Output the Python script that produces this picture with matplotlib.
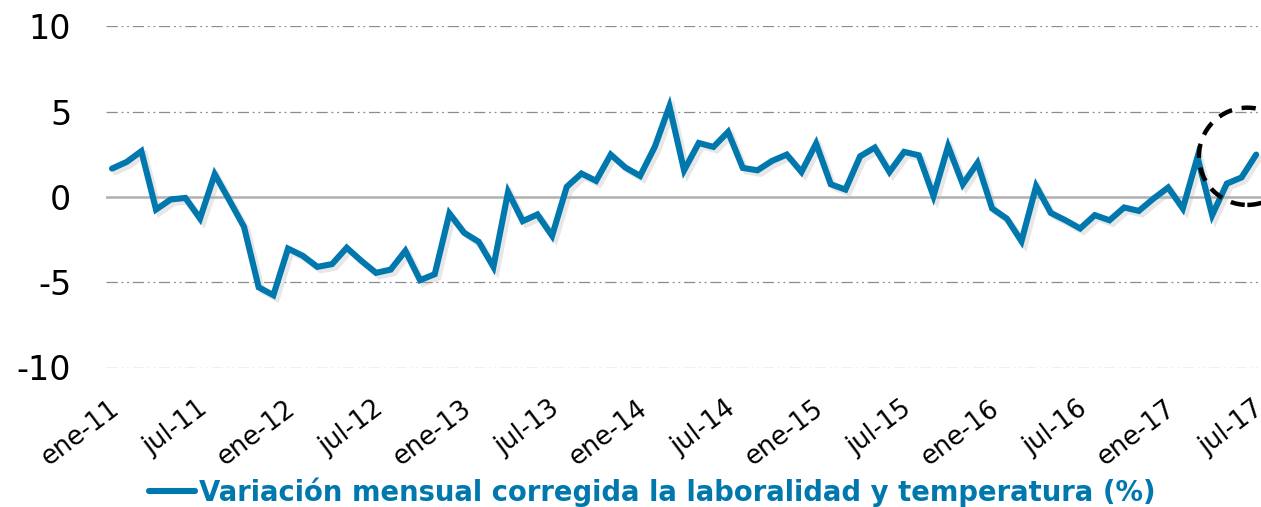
import matplotlib
matplotlib.use("Agg")
import matplotlib.pyplot as plt
import matplotlib.patheffects as pe
from matplotlib.patches import Ellipse
import matplotlib.transforms as mtransforms

years = ["11", "12", "13", "14", "15", "16", "17"]
months = []
for y in years:
    for m in ["ene", "feb", "mar", "abr", "may", "jun", "jul", "ago", "sep", "oct", "nov", "dic"]:
        months.append(f"{m}-{y}")
months = months[:79]  # ene-11 .. jul-17

values = [
    1.66, 2.05, 2.68, -0.74, -0.15, -0.06, -1.27, 1.33, -0.20, -1.76,
    -5.30, -5.76, -3.03, -3.45, -4.10, -3.94, -2.98, -3.75, -4.45, -4.26,
    -3.16, -4.88, -4.53, -0.97, -2.10, -2.63, -4.10, 0.29, -1.42, -1.03,
    -2.28, 0.59, 1.37, 0.94, 2.48, 1.72, 1.23, 2.93, 5.31, 1.56,
    3.16, 2.93, 3.81, 1.70, 1.56, 2.11, 2.48, 1.46, 3.13, 0.74,
    0.43, 2.38, 2.89, 1.46, 2.64, 2.44, 0.05, 2.97, 0.74, 1.99,
    -0.68, -1.27, -2.60, 0.63, -0.94, -1.37, -1.85, -1.07, -1.37, -0.62,
    -0.82, -0.10, 0.55, -0.68, 2.34, -1.07, 0.78, 1.14, 2.48,
]
tick_labels = ["ene-11", "jul-11", "ene-12", "jul-12", "ene-13", "jul-13", "ene-14",
               "jul-14", "ene-15", "jul-15", "ene-16", "jul-16", "ene-17", "jul-17"]
yticks = [-10, -5, 0, 5, 10]
legend_label = "Variación mensual corregida la laboralidad y temperatura (%)"

W, H = 1261, 507
fig = plt.figure(figsize=(W / 100, H / 100), dpi=100)
ax = fig.add_axes([106 / W, 1 - 367.5 / H, 1 - 106 / W, (367.5 - 26.3) / H])

color = "#0078AE"
x = list(range(len(values)))
ax.plot(x, values, color=color, lw=4.4, solid_joinstyle="miter", solid_capstyle="round",
        label=legend_label,
        path_effects=[pe.SimpleLineShadow(offset=(2.5, -2.5), shadow_color="#b0b0b0", alpha=0.3),
                      pe.Normal()], zorder=3)

ax.set_xlim(-0.41, 78.33)
ax.set_ylim(-10, 10)
for v in yticks:
    if v == 0:
        ax.axhline(0, color="#b0b0b0", lw=1.8, zorder=1)
    else:
        ax.axhline(v, color="#8c8c8c", lw=0.9, ls=(0, (9, 3, 1.5, 3, 1.5, 3)), zorder=1)

for s in ax.spines.values():
    s.set_visible(False)

ax.set_yticks(yticks)
ax.set_yticklabels([str(v) for v in yticks], fontsize=24)
ax.tick_params(axis="y", length=0, pad=25)

tick_pos = [months.index(t) for t in tick_labels]
ax.set_xticks(tick_pos)
ax.set_xticklabels(tick_labels, fontsize=18.5, rotation=37, ha="right", rotation_mode="anchor")
ax.tick_params(axis="x", length=0, pad=20)
offset = mtransforms.ScaledTranslation(-3 / 100, 0, fig.dpi_scale_trans)
for lab in ax.get_xticklabels():
    lab.set_transform(lab.get_transform() + offset)

# dashed highlight circle
ell = Ellipse((77.4, 2.38), width=2 * 3.3, height=2 * 2.85, fill=False, ec="black",
              lw=3.2, ls=(0, (3.2, 2.2)), clip_on=False, zorder=4)
ax.add_patch(ell)

leg = fig.legend(loc="center", bbox_to_anchor=(652 / W, 1 - 492 / H), frameon=False,
                 prop={"size": 19.8, "weight": "bold"},
                 handlelength=1.67, handletextpad=0.15, borderaxespad=0)
for t in leg.get_texts():
    t.set_color(color)
for h in leg.get_lines():
    h.set_path_effects([pe.Normal()])
    h.set_linewidth(4.4)

fig.savefig("out.png", dpi=100)
